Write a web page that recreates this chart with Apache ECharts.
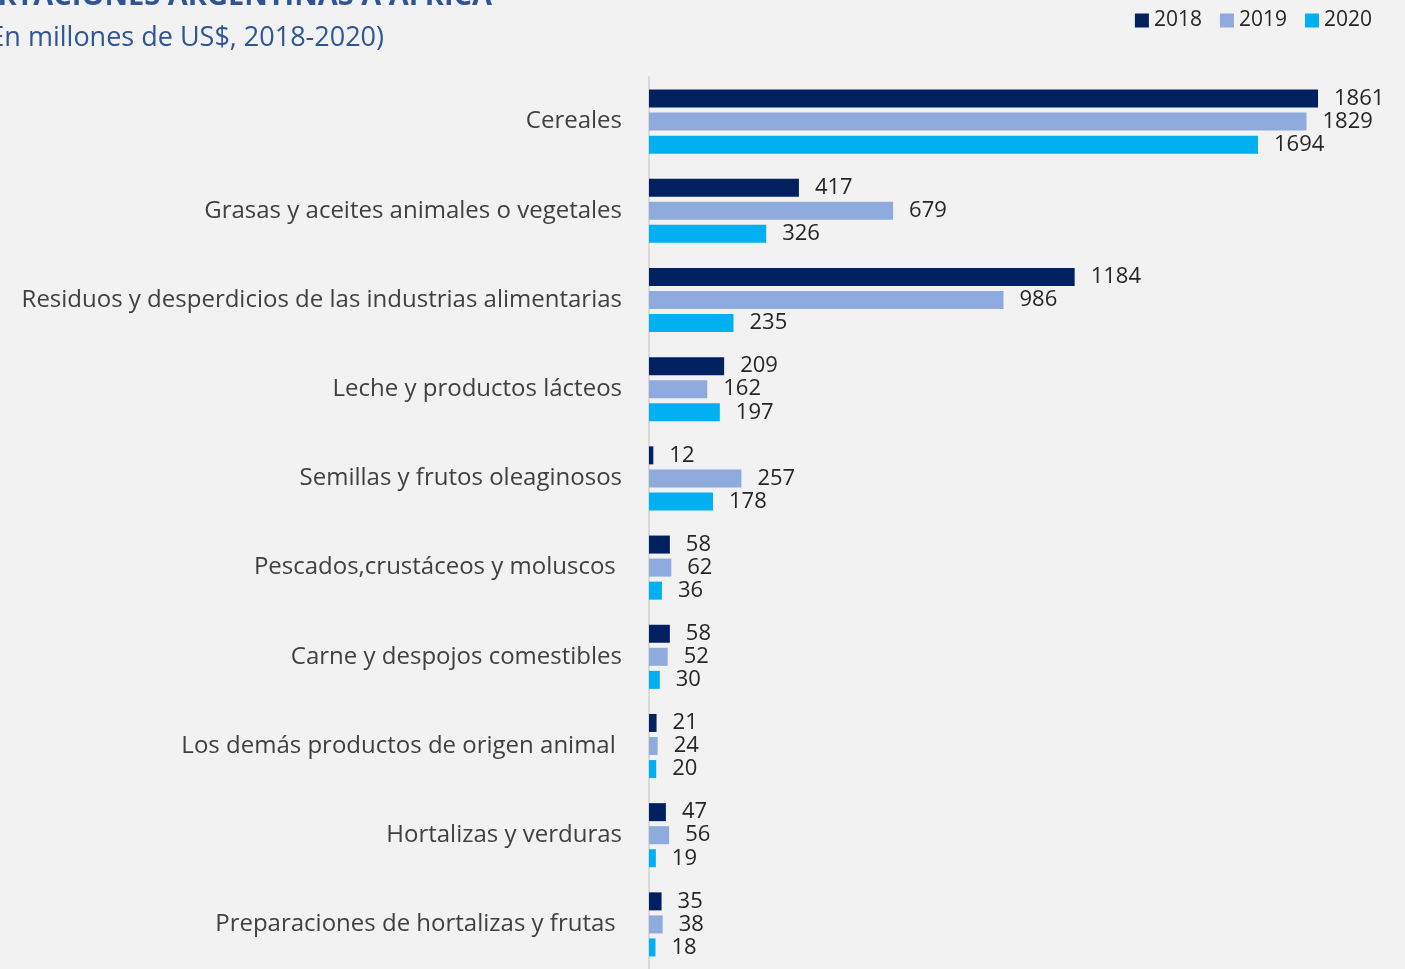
<!DOCTYPE html>
<html>
<head>
<meta charset="utf-8">
<script src="https://cdn.jsdelivr.net/npm/echarts@6/dist/echarts.min.js"></script>
<style>
  html, body { margin: 0; padding: 0; background: #f2f2f2; }
  #chart { width: 1405px; height: 969px; }
</style>
</head>
<body>
<div id="chart"></div>
<script>
const categories = [
  'Cereales',
  'Grasas y aceites animales o vegetales',
  'Residuos y desperdicios de las industrias alimentarias',
  'Leche y productos lácteos',
  'Semillas y frutos oleaginosos',
  'Pescados,crustáceos y moluscos ',
  'Carne y despojos comestibles',
  'Los demás productos de origen animal ',
  'Hortalizas y verduras',
  'Preparaciones de hortalizas y frutas '
]
const years = ['2018', '2019', '2020']
const v2018 = [1861, 417, 1184, 209, 12, 58, 58, 21, 47, 35]
const v2019 = [1829, 679, 986, 162, 257, 62, 52, 24, 56, 38]
const v2020 = [1694, 326, 235, 197, 178, 36, 30, 20, 19, 18]

const colors = ['#002060', '#8faadc', '#00b0f0']
const font = '"Open Sans", sans-serif'

const chart = echarts.init(document.getElementById('chart'))

function barSeries(name, data, color) {
  return {
    name,
    type: 'bar',
    data,
    barWidth: 18,
    barGap: '28%',
    itemStyle: { color },
    label: {
      show: true,
      position: 'right',
      distance: 16,
      color: '#262626',
      fontFamily: font,
      fontSize: 22
    }
  }
}

chart.setOption({
  animation: false,
  backgroundColor: '#f2f2f2',
  color: colors,
  graphic: [
    {
      type: 'text', x: 492, y: -3,
      style: {
        text: 'EXPORTACIONES ARGENTINAS A ÁFRICA',
        align: 'right', verticalAlign: 'middle',
        fill: '#2f5597', font: 'bold 29px ' + font
      }
    },
    {
      type: 'text', x: 384, y: 38,
      style: {
        text: '(En millones de US$, 2018-2020)',
        align: 'right', verticalAlign: 'middle',
        fill: '#2f5597', font: '27px ' + font
      }
    }
  ],
  legend: {
    data: years,
    right: 28,
    top: 5,
    itemWidth: 14,
    itemHeight: 14,
    itemGap: 18,
    icon: 'rect',
    textStyle: { color: '#262626', fontFamily: font, fontSize: 21 }
  },
  grid: { left: 649, right: 37, top: 77, height: 900 },
  xAxis: { type: 'value', min: 0, max: 2000, show: false },
  yAxis: {
    type: 'category',
    data: categories,
    inverse: true,
    axisTick: { show: false },
    axisLine: { lineStyle: { color: '#d9d9d9', width: 2 } },
    axisLabel: { color: '#404040', fontFamily: font, fontSize: 24, margin: 27 }
  },
  series: [
    barSeries(years[0], v2018, colors[0]),
    barSeries(years[1], v2019, colors[1]),
    barSeries(years[2], v2020, colors[2])
  ]
})
</script>
</body>
</html>
